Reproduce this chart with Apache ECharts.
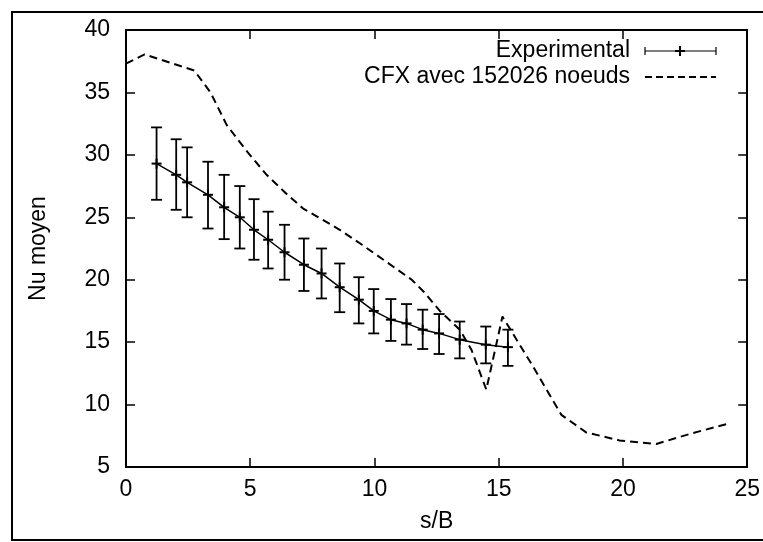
<!DOCTYPE html>
<html>
<head>
<meta charset="utf-8">
<script src="https://cdn.jsdelivr.net/npm/echarts@6/dist/echarts.min.js"></script>
<style>
html,body{margin:0;padding:0;background:#fff;}
#chart{width:763px;height:542px;}
</style>
</head>
<body>
<div id="chart"></div>
<script>
// ---- data ----
const sExp = [1.23, 2.02, 2.46, 3.30, 3.95, 4.58, 5.15, 5.72, 6.38, 7.16, 7.87, 8.60, 9.37, 9.97, 10.66, 11.29, 11.94, 12.60, 13.43, 14.48, 15.37];
const nuExp = [29.3, 28.4, 27.8, 26.8, 25.8, 25.0, 24.0, 23.2, 22.2, 21.2, 20.5, 19.4, 18.4, 17.5, 16.8, 16.5, 16.0, 15.7, 15.2, 14.8, 14.6];
const nuLow = [26.4, 25.6, 25.0, 24.1, 23.25, 22.5, 21.6, 20.9, 20.0, 19.1, 18.5, 17.4, 16.5, 15.7, 15.1, 14.8, 14.45, 14.05, 13.7, 13.3, 13.1];
const nuHigh = [32.2, 31.25, 30.6, 29.45, 28.4, 27.5, 26.45, 25.45, 24.4, 23.3, 22.5, 21.3, 20.2, 19.25, 18.45, 18.05, 17.6, 17.25, 16.65, 16.25, 16.0];

const sCfx = [0, 0.75, 2.75, 3.4, 4.05, 4.9, 5.66, 6.5, 7.13, 8.6, 9.5, 10.5, 11.5, 12.0, 12.63, 13.43, 13.9, 14.5, 15.15, 16.38, 17.52, 18.52, 19.86, 21.34, 22.81, 24.22];
const nuCfx = [37.3, 38.05, 36.75, 35.0, 32.4, 30.2, 28.4, 26.8, 25.7, 24.0, 22.8, 21.4, 20.0, 19.0, 17.5, 16.0, 14.4, 11.2, 17.05, 13.05, 9.18, 7.77, 7.13, 6.84, 7.72, 8.46];

const xTicks = [0, 5, 10, 15, 20, 25];
const yTicks = [5, 10, 15, 20, 25, 30, 35, 40];

const labelExp = 'Experimental';
const labelCfx = 'CFX avec 152026 noeuds';
const xName = 's/B';
const yName = 'Nu moyen';

// ---- build ----
const FONT = 'Liberation Sans, Arial, sans-serif';
const FS = 23;
const expData = sExp.map((s, i) => [s, nuExp[i], nuLow[i], nuHigh[i]]);
const expLine = sExp.map((s, i) => [s, nuExp[i]]);
const cfxLine = sCfx.map((s, i) => [s, nuCfx[i]]);

const axisCommon = {
  axisLine: { show: true, onZero: false, lineStyle: { color: '#000', width: 2 } },
  axisTick: { show: true, inside: true, length: 9, lineStyle: { color: '#000', width: 1.5 } },
  splitLine: { show: false }
};

const chart = echarts.init(document.getElementById('chart'), null, { renderer: 'canvas' });
chart.setOption({
  animation: false,
  backgroundColor: '#fff',
  textStyle: { fontFamily: FONT },
  grid: { left: 126, right: 15, top: 30, bottom: 75, containLabel: false },
  xAxis: [
    Object.assign({}, axisCommon, {
      type: 'value', position: 'bottom', min: xTicks[0], max: xTicks[xTicks.length - 1], interval: 5,
      axisLabel: { color: '#000', fontSize: FS, fontFamily: FONT, margin: 11 },
      name: xName, nameLocation: 'middle', nameGap: 43,
      nameTextStyle: { color: '#000', fontSize: FS, fontFamily: FONT }
    }),
    Object.assign({}, axisCommon, {
      type: 'value', position: 'top', min: xTicks[0], max: xTicks[xTicks.length - 1], interval: 5,
      axisLabel: { show: false }
    })
  ],
  yAxis: [
    Object.assign({}, axisCommon, {
      type: 'value', position: 'left', min: yTicks[0], max: yTicks[yTicks.length - 1], interval: 5,
      axisLabel: { color: '#000', fontSize: FS, fontFamily: FONT, margin: 16 },
      name: yName, nameLocation: 'middle', nameGap: 76, nameRotate: 90,
      nameTextStyle: { color: '#000', fontSize: FS, fontFamily: FONT }
    }),
    Object.assign({}, axisCommon, {
      type: 'value', position: 'right', min: yTicks[0], max: yTicks[yTicks.length - 1], interval: 5,
      axisLabel: { show: false }
    })
  ],
  series: [
    {
      type: 'line', name: labelCfx, data: cfxLine, xAxisIndex: 0, yAxisIndex: 0,
      symbol: 'none', smooth: false,
      lineStyle: { color: '#000', width: 2, type: [8, 5] }
    },
    {
      type: 'line', name: labelExp, data: expLine, xAxisIndex: 0, yAxisIndex: 0,
      symbol: 'none', smooth: false,
      lineStyle: { color: '#000', width: 1.5 }
    },
    {
      type: 'custom', name: labelExp + ' err', data: expData, xAxisIndex: 0, yAxisIndex: 0,
      renderItem: function (params, api) {
        const x = api.value(0);
        const p = api.coord([x, api.value(1)]);
        const lo = api.coord([x, api.value(2)]);
        const hi = api.coord([x, api.value(3)]);
        const cw = 5.5, pw = 5;
        const st = { stroke: '#000', lineWidth: 1.8 };
        return {
          type: 'group',
          children: [
            { type: 'line', shape: { x1: lo[0], y1: lo[1], x2: hi[0], y2: hi[1] }, style: st },
            { type: 'line', shape: { x1: lo[0] - cw, y1: lo[1], x2: lo[0] + cw, y2: lo[1] }, style: st },
            { type: 'line', shape: { x1: hi[0] - cw, y1: hi[1], x2: hi[0] + cw, y2: hi[1] }, style: st },
            { type: 'line', shape: { x1: p[0] - pw, y1: p[1], x2: p[0] + pw, y2: p[1] }, style: { stroke: '#000', lineWidth: 2 } },
            { type: 'line', shape: { x1: p[0], y1: p[1] - pw, x2: p[0], y2: p[1] + pw }, style: { stroke: '#000', lineWidth: 2 } }
          ]
        };
      }
    }
  ],
  graphic: [
    { type: 'rect', shape: { x: 12, y: 12, width: 800, height: 528 }, style: { fill: 'none', stroke: '#000', lineWidth: 2 }, silent: true },
    // legend
    { type: 'text', x: 630, y: 51, style: { text: labelExp, font: FS + 'px ' + FONT, fill: '#000', align: 'right', verticalAlign: 'middle' } },
    { type: 'text', x: 630, y: 77, style: { text: labelCfx, font: FS + 'px ' + FONT, fill: '#000', align: 'right', verticalAlign: 'middle' } },
    { type: 'line', shape: { x1: 645, y1: 51, x2: 716, y2: 51 }, style: { stroke: '#000', lineWidth: 1.2 } },
    { type: 'line', shape: { x1: 645, y1: 47, x2: 645, y2: 55 }, style: { stroke: '#000', lineWidth: 1.2 } },
    { type: 'line', shape: { x1: 716, y1: 47, x2: 716, y2: 55 }, style: { stroke: '#000', lineWidth: 1.2 } },
    { type: 'line', shape: { x1: 675, y1: 51, x2: 685, y2: 51 }, style: { stroke: '#000', lineWidth: 2 } },
    { type: 'line', shape: { x1: 680, y1: 46, x2: 680, y2: 56 }, style: { stroke: '#000', lineWidth: 2 } },
    { type: 'line', shape: { x1: 645, y1: 77, x2: 716, y2: 77 }, style: { stroke: '#000', lineWidth: 2, lineDash: [7, 4] } }
  ]
});
</script>
</body>
</html>
